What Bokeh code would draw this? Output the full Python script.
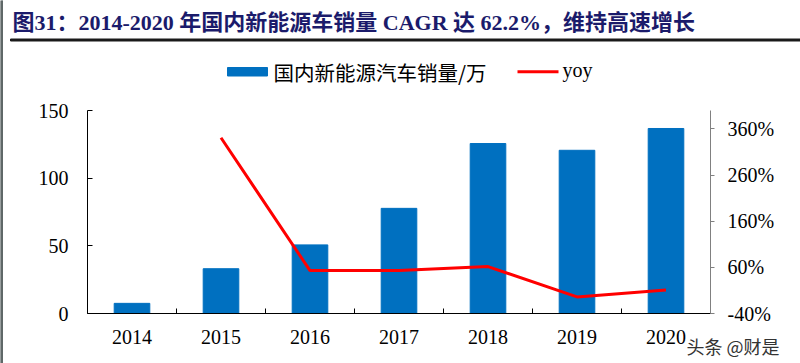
from bokeh.plotting import figure
from bokeh.layouts import column, row
from bokeh.models import (LinearAxis, Range1d, FixedTicker, Title,
                          PrintfTickFormatter)
from bokeh.core.properties import value
from bokeh.embed import file_html
from bokeh.resources import INLINE

years = ["2014", "2015", "2016", "2017", "2018", "2019", "2020"]
sales = [7.5, 33.1, 50.7, 77.7, 125.6, 120.6, 136.7]
yoy_years = ["2015", "2016", "2017", "2018", "2019", "2020"]
yoy = [341.0, 53.0, 53.0, 61.7, -4.0, 10.9]
left_ticks = [0, 50, 100, 150]
right_ticks = [-40, 60, 160, 260, 360]

title_text = "图31：2014-2020 年国内新能源车销量 CAGR 达 62.2%，维持高速增长"
legend_bar = "国内新能源汽车销量/万"
legend_line = "yoy"
watermark = "头条 @财是"

W, H = 800, 363
SW = 3                                # left grey strip width
HH = 100                              # header height
FL, FT, FR, FB = 87, 110, 710, 313    # frame edges in page pixels
SERIF = "Liberation Serif, Noto Sans CJK SC"
CJK = "Noto Sans CJK SC"


def blank(width, height, xr, yr):
    f = figure(width=width, height=height, output_backend="svg",
               toolbar_location=None, x_range=xr, y_range=yr,
               x_axis_type=None, y_axis_type=None,
               min_border_left=0, min_border_right=0, min_border_top=0,
               min_border_bottom=0)
    f.frame_align = False
    f.outline_line_color = None
    f.grid.visible = False
    f.background_fill_color = "white"
    f.border_fill_color = "white"
    return f


# ---------------- left strip ----------------
strip = blank(SW, H, Range1d(0, SW), Range1d(H, 0))
strip.quad(left=[0], right=[SW], top=[0], bottom=[H], color="#5f6868")

# ---------------- header (title + legend) ----------------
hd = blank(W - SW, HH, Range1d(SW, W), Range1d(HH, 0))
hd.text(x=[12], y=[22], text=[title_text], text_font=value(SERIF),
        text_font_style="bold", text_font_size="22px", text_color="#1B1B6B",
        text_baseline="middle")
hd.quad(left=[10], right=[W], top=[38.5], bottom=[40.5], color="#1a1a1a")

hd.quad(left=[227], right=[267], top=[67], bottom=[75.5], color="#0070C0")
hd.text(x=[273], y=[71], text=[legend_bar], text_font=value(CJK),
        text_font_size="20.5px", text_color="black", text_baseline="middle")
hd.line(x=[517, 558], y=[71.3, 71.3], color="#FF0000", line_width=3)
hd.text(x=[562], y=[69], text=[legend_line], text_font=value(SERIF),
        text_font_size="20px", text_color="black", text_baseline="middle")

# ---------------- main chart ----------------
xs = list(range(len(years)))
yoy_x = [years.index(y) for y in yoy_years]

p = figure(width=W - SW, height=H - HH, output_backend="svg",
           toolbar_location=None,
           x_range=Range1d(-0.5, len(years) - 0.5), y_range=Range1d(0, 150),
           min_border_left=FL - SW, min_border_right=W - FR,
           min_border_top=FT - HH, min_border_bottom=H - FB)
p.frame_align = False
p.outline_line_color = None
p.grid.visible = False
p.background_fill_color = "white"
p.border_fill_color = "white"

p.extra_y_ranges = {"yoy": Range1d(-40, 400)}

p.vbar(x=xs, top=sales, width=0.4, color="#0070C0")
p.line(x=yoy_x, y=yoy, y_range_name="yoy", color="#FF0000", line_width=3)

xa = p.xaxis[0]
xa.ticker = FixedTicker(ticks=xs, minor_ticks=[i - 0.5 for i in range(len(years) + 1)])
xa.major_label_overrides = {i: y for i, y in enumerate(years)}
xa.major_tick_in = 0
xa.major_tick_out = 0
xa.minor_tick_in = 5
xa.minor_tick_out = 0
xa.minor_tick_line_color = "black"
xa.axis_line_color = "black"
xa.major_label_text_font = SERIF
xa.major_label_text_font_size = "20px"
xa.major_label_text_color = "black"
xa.major_label_standoff = 16

ya = p.yaxis[0]
ya.ticker = FixedTicker(ticks=left_ticks)
ya.major_tick_in = 5
ya.major_tick_out = 0
ya.minor_tick_line_color = None
ya.axis_line_color = "black"
ya.major_label_text_font = SERIF
ya.major_label_text_font_size = "20px"
ya.major_label_text_color = "black"
ya.major_label_standoff = 19

ra = LinearAxis(y_range_name="yoy", ticker=FixedTicker(ticks=right_ticks),
                formatter=PrintfTickFormatter(format="%d%%"))
ra.major_tick_in = 0
ra.major_tick_out = 4
ra.minor_tick_line_color = None
ra.axis_line_color = "#808080"
ra.major_tick_line_color = "#808080"
ra.major_label_text_font = SERIF
ra.major_label_text_font_size = "20px"
ra.major_label_text_color = "black"
ra.major_label_standoff = 13
p.add_layout(ra, "right")

# watermark, tucked under the x axis labels (an empty second line lifts it)
p.add_layout(Title(text=watermark + "\n", align="left", offset=686 - FL,
                   vertical_align="bottom", standoff=-32,
                   text_line_height=0.5,
                   text_font=CJK, text_font_size="18px",
                   text_font_style="normal", text_color="#333333"), "below")

layout = row(strip, column(hd, p, spacing=0), spacing=0)
open("out.html", "w").write(file_html(layout, INLINE))
